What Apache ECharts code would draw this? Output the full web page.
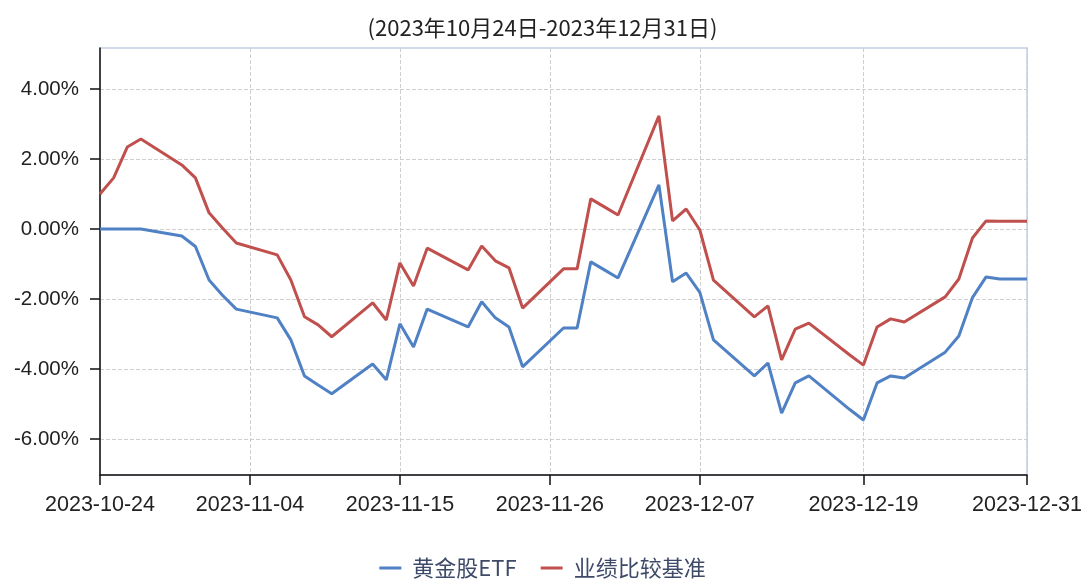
<!DOCTYPE html>
<html>
<head>
<meta charset="utf-8">
<script src="https://cdn.jsdelivr.net/npm/echarts@6/dist/echarts.min.js"></script>
<style>html,body{margin:0;padding:0;background:#fff}#c{width:1085px;height:579px}</style>
</head>
<body>
<div id="c"></div>
<script>
const titleText = '(2023年10月24日-2023年12月31日)';
const seriesNames = ['黄金股ETF', '业绩比较基准'];
const dates = ['2023-10-24','2023-10-25','2023-10-26','2023-10-27','2023-10-30','2023-10-31','2023-11-01','2023-11-02','2023-11-03','2023-11-06','2023-11-07','2023-11-08','2023-11-09','2023-11-10','2023-11-13','2023-11-14','2023-11-15','2023-11-16','2023-11-17','2023-11-20','2023-11-21','2023-11-22','2023-11-23','2023-11-24','2023-11-27','2023-11-28','2023-11-29','2023-11-30','2023-12-01','2023-12-04','2023-12-05','2023-12-06','2023-12-07','2023-12-08','2023-12-11','2023-12-12','2023-12-13','2023-12-14','2023-12-15','2023-12-18','2023-12-19','2023-12-20','2023-12-21','2023-12-22','2023-12-25','2023-12-26','2023-12-27','2023-12-28','2023-12-29','2023-12-31'];
const etf = [0,0,0,0,-0.20,-0.50,-1.46,-1.90,-2.29,-2.54,-3.17,-4.20,-4.46,-4.71,-3.86,-4.31,-2.71,-3.37,-2.29,-2.80,-2.08,-2.54,-2.80,-3.94,-2.83,-2.83,-0.94,-1.17,-1.40,1.26,-1.51,-1.26,-1.81,-3.17,-4.20,-3.83,-5.26,-4.40,-4.20,-5.16,-5.46,-4.40,-4.20,-4.26,-3.52,-3.06,-1.96,-1.37,-1.43,-1.43];
const bench = [1.00,1.46,2.34,2.57,1.83,1.46,0.46,0.02,-0.40,-0.74,-1.46,-2.51,-2.74,-3.08,-2.11,-2.60,-0.97,-1.63,-0.55,-1.17,-0.49,-0.91,-1.11,-2.26,-1.14,-1.14,0.86,0.63,0.40,3.23,0.23,0.57,-0.03,-1.46,-2.51,-2.20,-3.74,-2.86,-2.69,-3.60,-3.89,-2.80,-2.57,-2.66,-1.94,-1.43,-0.26,0.23,0.22,0.22];
const xTicks = ['2023-10-24','2023-11-04','2023-11-15','2023-11-26','2023-12-07','2023-12-19','2023-12-31'];
const yTicks = [-6,-4,-2,0,2,4];
const yRange = [-7.03, 5.17];

const ts = d => Date.parse(d);
const fmtDate = v => new Date(v).toISOString().slice(0,10);
const xTickVals = xTicks.map(ts);

const chart = echarts.init(document.getElementById('c'), null, {renderer:'canvas'});
chart.setOption({
  animation: false,
  title: {
    text: titleText, left: 'center', top: 12,
    textStyle: {fontFamily: 'Noto Sans CJK SC', fontSize: 22, fontWeight: 'normal', color: '#222'}
  },
  legend: {
    bottom: 0, left: 'center', padding: 0, itemWidth: 22, itemHeight: 3, itemGap: 24,
    icon: 'rect',
    textStyle: {fontFamily: 'Noto Sans CJK SC', fontSize: 22, color: '#3e4a68', padding: [0, 0, 0, 6]},
    data: seriesNames
  },
  grid: {
    left: 100, right: 58, top: 48, bottom: 104, show: true,
    borderColor: '#c3cde2', borderWidth: 1.5, backgroundColor: 'transparent'
  },
  xAxis: {
    type: 'value',
    min: ts(xTicks[0]), max: ts(xTicks[xTicks.length-1]),
    axisLine: {onZero: false, lineStyle: {color: '#111', width: 1.5}},
    axisTick: {show: true, length: 10, customValues: xTickVals, lineStyle: {color: '#111', width: 1.5}},
    axisLabel: {customValues: xTickVals, formatter: v => fmtDate(v), fontFamily: 'Liberation Sans', fontSize: 21.5, color: '#222', margin: 19},
    splitLine: {show: true, lineStyle: {type: 'dashed', color: '#cfcfcf'}}
  },
  yAxis: {
    type: 'value', min: yRange[0], max: yRange[1],
    axisLine: {show: true, onZero: false, lineStyle: {color: '#111', width: 1.5}},
    axisTick: {show: true, length: 10, customValues: yTicks, lineStyle: {color: '#111', width: 1.5}},
    axisLabel: {customValues: yTicks, formatter: v => v.toFixed(2) + '%', fontFamily: 'Liberation Sans', fontSize: 20.5, color: '#222', margin: 21},
    splitLine: {show: true, lineStyle: {type: 'dashed', color: '#cfcfcf'}}
  },
  series: [
    {name: seriesNames[0], type: 'line', showSymbol: false, symbol: 'none',
     lineStyle: {width: 3, color: '#4f81c4'}, itemStyle: {color: '#4f81c4'},
     data: dates.map((d,i) => [ts(d), etf[i]])},
    {name: seriesNames[1], type: 'line', showSymbol: false, symbol: 'none',
     lineStyle: {width: 3, color: '#c0504d'}, itemStyle: {color: '#c0504d'},
     data: dates.map((d,i) => [ts(d), bench[i]])}
  ]
});
</script>
</body>
</html>
